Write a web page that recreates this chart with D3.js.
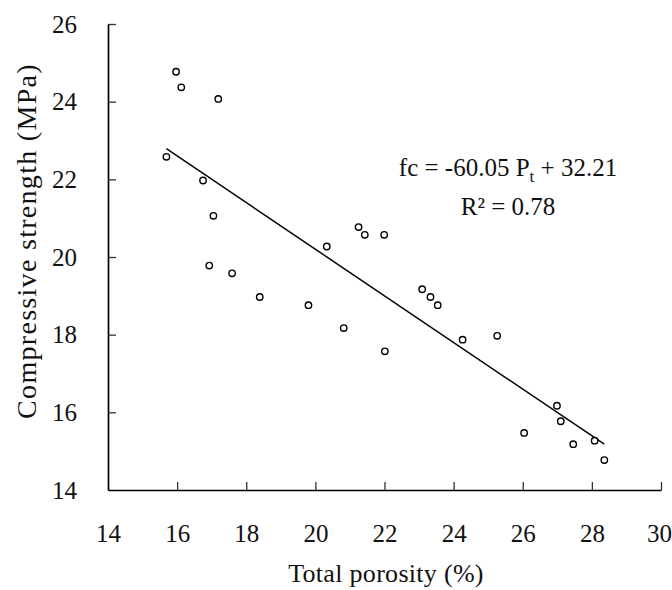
<!DOCTYPE html>
<html lang="en">
<head>
    <meta charset="UTF-8">
    <title>Compressive strength vs total porosity</title>
    <script src="https://d3js.org/d3.v7.min.js"></script>
    <style>
        body { margin: 0; background: #fff; }
        .domain { stroke: #000; stroke-width: 1.7px; }
        .tick line { stroke: #333; stroke-width: 1.3px; }
    </style>
</head>
<body>
    <div id="chart"></div>
    <script>
        // total porosity (%) and compressive strength (MPa)
        const porosity = [15.97, 16.12, 17.19, 15.69, 16.75, 17.05, 16.93, 17.59, 18.39, 19.8,
                          20.33, 20.82, 21.25, 21.43, 21.99, 22.01, 23.09, 23.33, 23.54, 24.26,
                          25.26, 26.04, 26.99, 27.1, 27.46, 28.08, 28.36];
        const strength = [24.77, 24.37, 24.07, 22.58, 21.97, 21.06, 19.78, 19.58, 18.97, 18.76,
                          20.27, 18.17, 20.77, 20.57, 20.57, 17.57, 19.17, 18.97, 18.76, 17.87,
                          17.97, 15.47, 16.17, 15.77, 15.18, 15.27, 14.77];
        const xTicks = [14, 16, 18, 20, 22, 24, 26, 28, 30];
        const yTicks = [14, 16, 18, 20, 22, 24, 26];
        // fc = a * Pt + b, Pt as a fraction
        const fitSlope = -60.05;
        const fitIntercept = 32.21;

        const serif = "'Liberation Serif', 'Times New Roman', Times, serif";
        const width = 672, height = 590;
        const margin = { top: 24, right: 11, bottom: 100, left: 108 };

        const svg = d3.select("#chart").append("svg")
            .attr("width", width)
            .attr("height", height);

        const x = d3.scaleLinear().domain([14, 30]).range([margin.left, width - margin.right]);
        const y = d3.scaleLinear().domain([14, 26]).range([height - margin.bottom, margin.top]);

        // axes, ticks point inwards
        const xAxis = svg.append("g")
            .attr("transform", `translate(0,${height - margin.bottom})`)
            .call(d3.axisBottom(x).tickValues(xTicks).tickSizeInner(-8).tickSizeOuter(0).tickPadding(34));
        xAxis.selectAll(".tick").filter(d => d === 14).select("line").remove();
        xAxis.selectAll(".tick").filter(d => d === 30).select("text").attr("dx", -2);

        const yAxis = svg.append("g")
            .attr("transform", `translate(${margin.left},0)`)
            .call(d3.axisLeft(y).tickValues(yTicks).tickSizeInner(-8).tickSizeOuter(0).tickPadding(31));
        yAxis.selectAll(".tick").filter(d => d === 14).select("line").remove();

        svg.selectAll("g").attr("font-family", serif).attr("font-size", 25);
        svg.selectAll(".tick text").attr("fill", "#111");

        // regression line over the range of the data
        const fit = p => fitSlope * p / 100 + fitIntercept;
        const [pMin, pMax] = d3.extent(porosity);
        svg.append("line")
            .attr("x1", x(pMin)).attr("y1", y(fit(pMin)))
            .attr("x2", x(pMax)).attr("y2", y(fit(pMax)))
            .attr("stroke", "#000")
            .attr("stroke-width", 1.5);

        // points
        svg.append("g")
            .selectAll("circle")
            .data(porosity.map((p, i) => [p, strength[i]]))
            .join("circle")
            .attr("cx", d => x(d[0]))
            .attr("cy", d => y(d[1]))
            .attr("r", 3.2)
            .attr("fill", "#fff")
            .attr("stroke", "#000")
            .attr("stroke-width", 1.4);

        // equation
        const eq = svg.append("text")
            .attr("x", 508)
            .attr("y", 176)
            .attr("text-anchor", "middle")
            .attr("font-family", serif)
            .attr("font-size", 25)
            .attr("fill", "#111");
        eq.append("tspan").text("fc = -60.05 P");
        eq.append("tspan").attr("font-size", 17).attr("dy", 6).text("t");
        eq.append("tspan").attr("dy", -6).text(" + 32.21");

        svg.append("text")
            .attr("x", 508)
            .attr("y", 215)
            .attr("text-anchor", "middle")
            .attr("font-family", serif)
            .attr("font-size", 25)
            .attr("fill", "#111")
            .text("R² = 0.78");

        // axis titles
        svg.append("text")
            .attr("x", 386)
            .attr("y", 582)
            .attr("text-anchor", "middle")
            .attr("font-family", serif)
            .attr("font-size", 26)
            .attr("fill", "#111")
            .attr("letter-spacing", "0.3px")
            .text("Total  porosity (%)");

        svg.append("text")
            .attr("transform", "translate(36,241) rotate(-90)")
            .attr("text-anchor", "middle")
            .attr("font-family", serif)
            .attr("font-size", 28)
            .attr("fill", "#111")
            .attr("letter-spacing", "1.3px")
            .text("Compressive  strength (MPa)");
    </script>
</body>
</html>
